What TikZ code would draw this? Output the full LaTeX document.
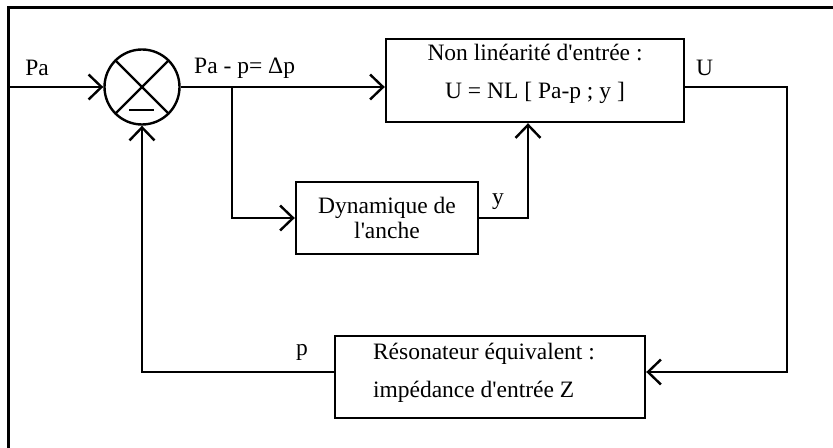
\documentclass[tikz,border=0pt]{standalone}
\usepackage{fontspec}
\setmainfont{Liberation Serif}
\usetikzlibrary{arrows.meta}
\usetikzlibrary{calc}

\begin{document}
\begin{tikzpicture}[x=0.5pt, y=-0.5pt, >={Straight Barb[length=6.5pt,width=12.5pt]},
    line width=1.2pt, font=\fontsize{11.75}{13}\selectfont]
    \tikzstyle{block}=[draw, rectangle, line width=1.2pt, inner sep=0pt]
    \tikzstyle{sumnode}=[draw, circle, line width=1.2pt, minimum size=37.5pt, inner sep=0pt]
    \tikzstyle{txt}=[inner sep=0pt, font=\fontsize{11.75}{19}\selectfont]
    \tikzstyle{lbl}=[inner sep=0pt]
    \useasboundingbox (0,0) rectangle (833,448);
    % frame
    \draw[line width=1.5pt] (8,448) |- (833,8);

    \node[sumnode]  (sum) at (142,87)  {};
    \node[block, minimum width=149pt, minimum height=41.5pt] (nl)  at (535,80.5) {};
    \node[block, minimum width=91pt, minimum height=36pt, align=center,
          font=\fontsize{11.75}{12.5}\selectfont] (dyn) at (387,218) {Dynamique de\\l\textquotesingle anche};
    \node[block, minimum width=155pt, minimum height=41pt] (res) at (490,377) {};

    \node[txt, align=center] (nltxt) at ([yshift=3.25pt]nl.center)
        {Non linéarité d\textquotesingle entrée :\\U = NL [ Pa-p ; y ]};
    \node[txt, align=left, anchor=west] (restxt) at ([xshift=19pt, yshift=2.25pt]res.west)
        {Résonateur équivalent :\\impédance d\textquotesingle entrée Z};

    % summing junction
    \draw (sum.north west) -- (sum.south east);
    \draw (sum.north east) -- (sum.south west);
    \draw ([shift={(-13,23)}]sum.center) -- ([shift={(12,23)}]sum.center);

    \coordinate (in)  at (8,87);
    \coordinate (br)  at (232,87);
    \coordinate (uc)  at (787,87);

    \node[lbl] (pa)    at (37,68)            {Pa};
    \node[lbl, anchor=west] (dp) at (193,68) {Pa - p= Δp};
    \node[lbl, anchor=west] (u)  at (695,68) {U};
    \node[lbl] (ly)    at (498,202)          {y};
    \node[lbl] (lp)    at (302,352)          {p};

    \draw[->] (in) -- (sum.west);
    \draw[->] (sum.east) -- (sum -| nl.west);
    \draw[->] (br) |- (dyn.west);
    \draw[->] (dyn.east) -| ([xshift=-3.5pt]nl.south);
    \draw[->] (nl.east |- uc) -- (uc) |- ([yshift=2.5pt]res.east);
    \draw[->] ([yshift=2.5pt]res.west) -| (sum.south);
\end{tikzpicture}
\end{document}
